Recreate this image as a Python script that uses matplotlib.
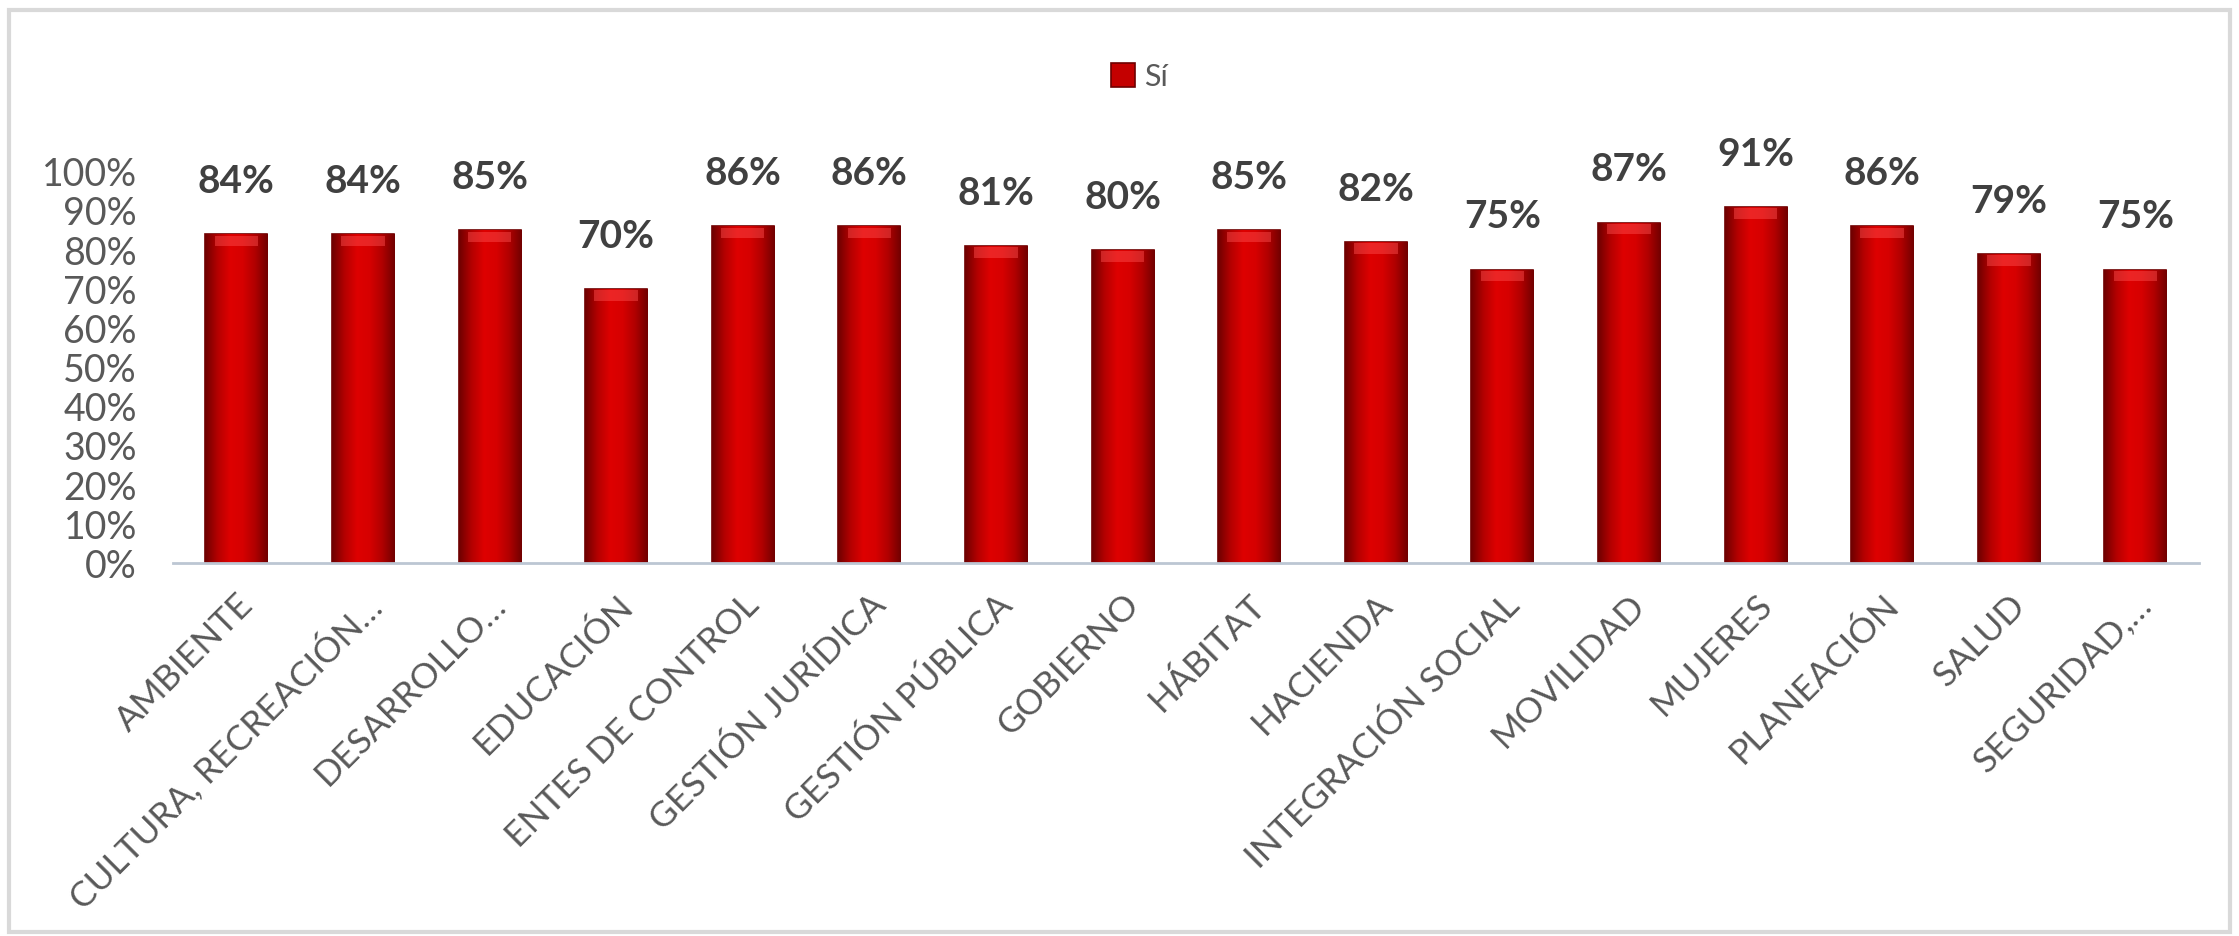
import matplotlib.pyplot as plt
import numpy as np
from matplotlib.patches import Rectangle
from matplotlib.colors import LinearSegmentedColormap

plt.rcParams['font.family'] = ['Lato', 'DejaVu Sans']

# Data
sectores = ["AMBIENTE", "CULTURA, RECREACIÓN…", "DESARROLLO…", "EDUCACIÓN",
            "ENTES DE CONTROL", "GESTIÓN JURÍDICA", "GESTIÓN PÚBLICA", "GOBIERNO",
            "HÁBITAT", "HACIENDA", "INTEGRACIÓN SOCIAL", "MOVILIDAD", "MUJERES",
            "PLANEACIÓN", "SALUD", "SEGURIDAD,…"]
si = [0.84, 0.84, 0.85, 0.70, 0.86, 0.86, 0.81, 0.80,
      0.85, 0.82, 0.75, 0.87, 0.91, 0.86, 0.79, 0.75]
serie = "Sí"

fig = plt.figure(figsize=(22.39, 9.36), dpi=100)
ax = fig.add_axes([0.0773, 0.398, 0.9047, 0.427])

x = np.arange(len(sectores))
bars = ax.bar(x, si, width=0.49, color="#C40000", edgecolor="#6E0000",
              linewidth=1.2, label=serie, zorder=2)

# cylinder-like shading on each bar
red_grad = LinearSegmentedColormap.from_list(
    "red_grad", ["#6E0000", "#B40000", "#DE0000", "#D60000", "#B00000", "#700000"])
grad = np.linspace(0, 1, 256).reshape(1, -1)
for b in bars:
    x0, y0 = b.get_x(), b.get_y()
    w, h = b.get_width(), b.get_height()
    im = ax.imshow(grad, cmap=red_grad, aspect="auto",
                   extent=[x0, x0 + w, y0, y0 + h], zorder=2.5)
    im.set_clip_path(b)
    # lighter cap at the top
    ax.add_patch(Rectangle((x0 + w * 0.15, y0 + h - 0.03), w * 0.7, 0.027,
                           facecolor="#FF5050", edgecolor="none", alpha=0.45, zorder=3))

for b, v in zip(bars, si):
    ax.annotate(f"{v:.0%}", (b.get_x() + b.get_width() / 2, v),
                xytext=(0, 38), textcoords="offset points",
                ha="center", va="center", fontsize=28, fontweight="bold",
                color="#404040")

ax.set_xlim(-0.5, len(sectores) - 0.5)
ax.set_ylim(0, 1.02)
ax.set_yticks(np.arange(0, 1.01, 0.1))
ax.set_yticklabels([f"{int(round(t * 100))}%" for t in np.arange(0, 1.01, 0.1)])
ax.set_xticks(x)
ax.set_xticklabels(sectores, rotation=45, ha="right", rotation_mode="anchor")

ax.tick_params(axis="y", length=0, labelsize=27, labelcolor="#595959", pad=26)
ax.tick_params(axis="x", length=0, labelsize=25.5, labelcolor="#595959", pad=18)

for s in ["top", "right", "left"]:
    ax.spines[s].set_visible(False)
ax.spines["bottom"].set_color("#BCC6D3")
ax.spines["bottom"].set_linewidth(2)

leg = fig.legend(handles=[bars], labels=[serie], loc="center",
                 bbox_to_anchor=(0.509, 0.918), frameon=False, fontsize=22,
                 handlelength=0.8, handleheight=0.8, handletextpad=0.3)
for t in leg.get_texts():
    t.set_color("#595959")

# light frame around the chart area
fig.add_artist(Rectangle((0.004, 0.004), 0.992, 0.985, transform=fig.transFigure,
                         fill=False, edgecolor="#D9D9D9", linewidth=3))

fig.savefig("out.png", dpi=100, facecolor="white")
